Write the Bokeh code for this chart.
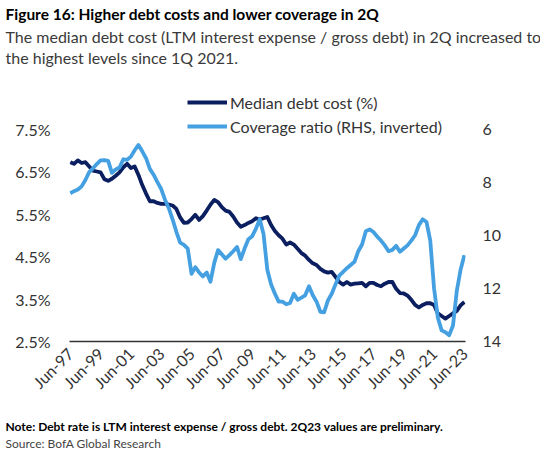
import math
from bokeh.plotting import figure
from bokeh.models import (Legend, LegendItem, LinearAxis, Range1d,
                          FixedTicker, Title)
from bokeh.embed import file_html
from bokeh.resources import INLINE

# ---------------- data (quarterly, 2Q97 .. 2Q23) ----------------
debt_cost = [6.72, 6.68, 6.76, 6.70, 6.72, 6.62, 6.52, 6.50, 6.48, 6.32,
             6.28, 6.33, 6.40, 6.48, 6.60, 6.68, 6.58, 6.62, 6.42, 6.18,
             5.98, 5.80, 5.80, 5.76, 5.74, 5.74, 5.72, 5.70, 5.62, 5.42,
             5.29, 5.30, 5.38, 5.48, 5.36, 5.45, 5.58, 5.72, 5.83, 5.78,
             5.66, 5.58, 5.55, 5.44, 5.30, 5.20, 5.24, 5.29, 5.33, 5.40,
             5.37, 5.40, 5.43, 5.24, 5.10, 5.00, 4.92, 4.78, 4.83, 4.78,
             4.68, 4.58, 4.52, 4.42, 4.34, 4.30, 4.21, 4.15, 4.12, 4.14,
             4.02, 3.90, 3.84, 3.90, 3.84, 3.86, 3.87, 3.88, 3.80, 3.88,
             3.88, 3.83, 3.80, 3.86, 3.90, 3.90, 3.74, 3.64, 3.63, 3.58,
             3.48, 3.36, 3.30, 3.36, 3.40, 3.40, 3.36, 3.16, 3.10, 3.04,
             3.10, 3.16, 3.22, 3.35, 3.43]

coverage = [8.42, 8.34, 8.28, 8.16, 7.92, 7.62, 7.48, 7.32, 7.18, 7.17,
            7.20, 7.65, 7.52, 7.45, 7.14, 7.16, 7.04, 6.80, 6.60, 6.84,
            7.10, 7.50, 7.72, 8.00, 8.26, 8.66, 8.98, 9.40, 9.87, 10.28,
            10.36, 10.50, 11.45, 11.20, 11.40, 11.55, 11.40, 11.75, 11.04, 10.56,
            10.72, 10.88, 10.75, 10.60, 10.44, 10.90, 10.50, 10.15, 10.04, 9.75,
            9.40, 9.95, 11.30, 11.85, 12.20, 12.50, 12.50, 12.60, 12.55, 12.20,
            12.43, 12.35, 12.26, 11.92, 12.26, 12.50, 12.88, 12.90, 12.45, 12.20,
            11.85, 11.52, 11.38, 11.24, 11.12, 11.00, 10.60, 10.35, 9.85, 9.78,
            9.88, 10.05, 10.20, 10.38, 10.60, 10.55, 10.40, 10.62, 10.50, 10.38,
            10.20, 10.00, 9.62, 9.40, 9.50, 10.20, 12.00, 13.10, 13.58, 13.65,
            13.76, 13.40, 12.10, 11.30, 10.75]

x_tick_labels = ["Jun-97", "Jun-99", "Jun-01", "Jun-03", "Jun-05", "Jun-07",
                 "Jun-09", "Jun-11", "Jun-13", "Jun-15", "Jun-17", "Jun-19",
                 "Jun-21", "Jun-23"]
left_ticks = [2.5, 3.5, 4.5, 5.5, 6.5, 7.5]
left_tick_labels = ["2.5%", "3.5%", "4.5%", "5.5%", "6.5%", "7.5%"]
right_ticks = [6, 8, 10, 12, 14]
right_tick_labels = ["6", "8", "10", "12", "14"]

series_names = ["Median debt cost (%)", "Coverage ratio (RHS, inverted)"]
title_text = "Figure 16: Higher debt costs and lower coverage in 2Q"
subtitle_1 = "The median debt cost (LTM interest expense / gross debt) in 2Q increased to"
subtitle_2 = "the highest levels since 1Q 2021."
note_text = "Note: Debt rate is LTM interest expense / gross debt.  2Q23 values are preliminary."
source_text = "Source:  BofA Global Research"

# ---------------- styling ----------------
DARK = "#0B1E60"
LIGHT = "#45A0E2"
FONT = "Lato"
TXT = "#333333"

FL, FR = 69, 75

qi = list(range(len(debt_cost)))

p = figure(frame_width=396, frame_height=255, output_backend="svg",
           toolbar_location=None,
           x_range=Range1d(-0.2, 104.3), y_range=Range1d(2.5, 8.5),
           min_border_left=FL, min_border_right=FR, min_border_top=0,
           min_border_bottom=0, background_fill_color="white",
           border_fill_color="white")
p.outline_line_color = None
p.xgrid.visible = False
p.ygrid.visible = False

p.extra_y_ranges = {"cov": Range1d(start=14, end=4.4)}

r_dark = p.line(qi, debt_cost, line_color=DARK, line_width=3.8,
                line_join="round")
r_light = p.line(qi, coverage, line_color=LIGHT, line_width=3.8,
                 line_join="round", y_range_name="cov")

xa = p.xaxis[0]
xa.ticker = FixedTicker(ticks=[i * 8 for i in range(len(x_tick_labels))])
xa.major_label_overrides = {i * 8: lab for i, lab in enumerate(x_tick_labels)}
xa.major_label_orientation = math.pi / 4
xa.axis_line_color = "#333333"
xa.axis_line_width = 1.6
xa.major_tick_line_color = None
xa.minor_tick_line_color = None
xa.major_tick_out = 0
xa.major_tick_in = 0
xa.major_label_standoff = 9
xa.major_label_text_font = FONT
xa.major_label_text_font_size = "16px"
xa.major_label_text_color = TXT

ya = p.yaxis[0]
ya.ticker = FixedTicker(ticks=left_ticks)
ya.major_label_overrides = dict(zip(left_ticks, left_tick_labels))
ya.axis_line_color = None
ya.major_tick_line_color = None
ya.minor_tick_line_color = None
ya.major_tick_out = 0
ya.major_tick_in = 0
ya.major_label_standoff = 19
ya.major_label_text_font = FONT
ya.major_label_text_font_size = "16px"
ya.major_label_text_color = TXT

ra = LinearAxis(y_range_name="cov")
ra.ticker = FixedTicker(ticks=right_ticks)
ra.major_label_overrides = dict(zip(right_ticks, right_tick_labels))
ra.axis_line_color = None
ra.major_tick_line_color = None
ra.minor_tick_line_color = None
ra.major_tick_out = 0
ra.major_tick_in = 0
ra.major_label_standoff = 17
ra.major_label_text_font = FONT
ra.major_label_text_font_size = "16px"
ra.major_label_text_color = TXT
p.add_layout(ra, "right")

legend = Legend(items=[LegendItem(label=series_names[0], renderers=[r_dark]),
                       LegendItem(label=series_names[1], renderers=[r_light])],
                location=(118, 205), orientation="vertical",
                glyph_width=40, glyph_height=20, label_height=20,
                label_standoff=3, spacing=4, padding=0, margin=0,
                border_line_color=None, background_fill_alpha=0,
                label_text_font=FONT, label_text_font_size="16px",
                label_text_color=TXT)
p.add_layout(legend)


def make_title(text, size, bold, color, standoff):
    return Title(text=text, align="left", offset=-(FL - 5),
                 text_font=FONT, text_font_size=size,
                 text_font_style="bold" if bold else "normal",
                 text_color=color, standoff=standoff)


# above: first added sits nearest the frame; " " titles are blank spacers
p.add_layout(make_title(" ", "15px", False, "#ffffff", 0), "above")
p.add_layout(make_title(subtitle_2, "16px", False, "#3a3a3a", 0), "above")
p.add_layout(make_title(subtitle_1, "16px", False, "#3a3a3a", 0), "above")
p.add_layout(make_title(title_text, "15.5px", True, "#000000", 4), "above")

# below: after the x axis
p.add_layout(make_title(" ", "11px", False, "#ffffff", 0), "below")
p.add_layout(make_title(note_text, "12px", True, "#000000", 0), "below")
p.add_layout(make_title(source_text, "12px", False, "#444444", 0), "below")

open("out.html", "w").write(file_html(p, INLINE))
